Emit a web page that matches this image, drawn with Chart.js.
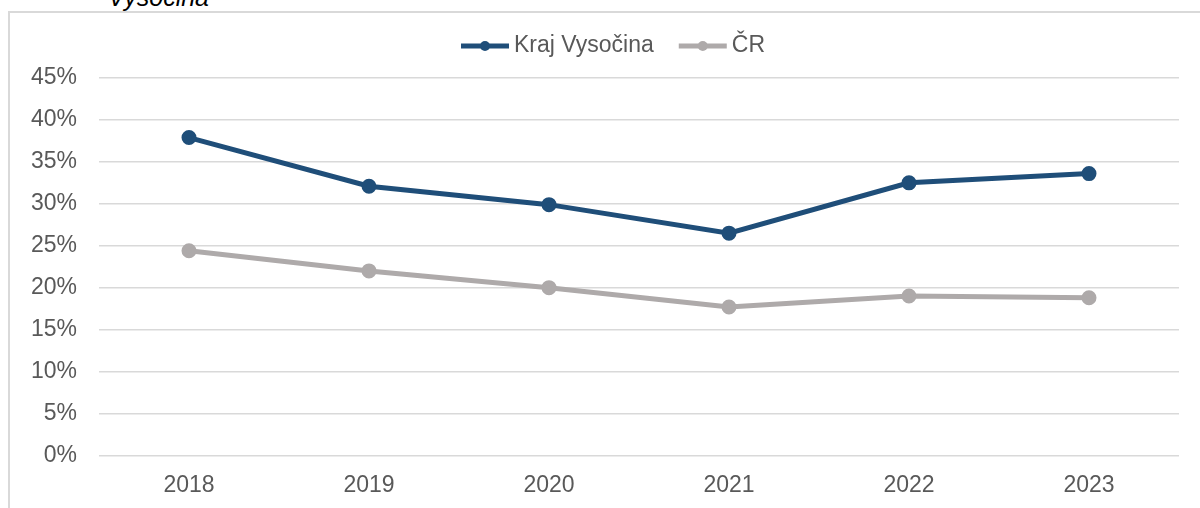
<!DOCTYPE html>
<html>
<head>
<meta charset="utf-8">
<script src="https://cdn.jsdelivr.net/npm/chart.js@4"></script>
<style>
  html, body { margin: 0; padding: 0; width: 1200px; height: 508px; overflow: hidden; background: #fff; }
  #frame { position: absolute; left: 8px; top: 11px; width: 1220px; height: 540px; border: 2px solid #d9d9d9; box-sizing: border-box; }
  #title { position: absolute; left: 108px; top: -15px; font: italic 25px/25px "Liberation Sans", Arial, sans-serif; color: #000; white-space: nowrap; }
  #wrap { position: absolute; left: 9px; top: 12px; width: 1208px; height: 510px; }
</style>
</head>
<body>
<div id="title">Vysočina</div>
<div id="frame"></div>
<div id="wrap"><canvas id="chart" width="1208" height="510"></canvas></div>
<script>
const years = ['2018', '2019', '2020', '2021', '2022', '2023'];
const krajVysocina = [37.9, 32.1, 29.9, 26.5, 32.5, 33.6];
const ceskaRepublika = [24.4, 22.0, 20.0, 17.7, 19.0, 18.8];
const seriesNames = ['Kraj Vysočina', 'ČR'];

const BLUE = '#1f4e79';
const GRAY = '#aeaaaa';
const TEXT = '#595959';
const FONT = '"Liberation Sans", Arial, sans-serif';
const FONT_SIZE = 23;

// legend like Excel: short line with a dot, centred over the chart object
const lineLegend = {
    id: 'lineLegend',
    afterDraw(chart) {
        const ctx = chart.ctx;
        const sets = chart.data.datasets;
        const sample = 48, gapText = 5, gapItem = 25;
        ctx.save();
        ctx.font = FONT_SIZE + 'px ' + FONT;
        const widths = sets.map(ds => sample + gapText + ctx.measureText(ds.label).width);
        const total = widths.reduce((a, b) => a + b, 0) + gapItem * (sets.length - 1);
        let x = (chart.width - total) / 2;
        const y = 34;
        sets.forEach((ds, i) => {
            ctx.strokeStyle = ds.borderColor;
            ctx.lineWidth = ds.borderWidth;
            ctx.beginPath(); ctx.moveTo(x, y); ctx.lineTo(x + sample, y); ctx.stroke();
            ctx.fillStyle = ds.borderColor;
            ctx.beginPath(); ctx.arc(x + sample / 2, y, ds.pointRadius, 0, Math.PI * 2); ctx.fill();
            ctx.fillStyle = TEXT;
            ctx.textBaseline = 'middle';
            ctx.textAlign = 'left';
            ctx.fillText(ds.label, x + sample + gapText, y);
            x += widths[i] + gapItem;
        });
        ctx.restore();
    }
};

new Chart(document.getElementById('chart'), {
    type: 'line',
    data: {
        labels: years,
        datasets: [
            { label: seriesNames[0], data: krajVysocina, borderColor: BLUE, backgroundColor: BLUE, borderWidth: 5, pointRadius: 5, pointHoverRadius: 5, tension: 0 },
            { label: seriesNames[1], data: ceskaRepublika, borderColor: GRAY, backgroundColor: GRAY, borderWidth: 5, pointRadius: 5, pointHoverRadius: 5, tension: 0 }
        ]
    },
    plugins: [lineLegend],
    options: {
        responsive: false,
        animation: false,
        layout: { padding: { top: 66, bottom: 7, left: 0, right: 38 } },
        plugins: {
            tooltip: { enabled: false },
            legend: { display: false }
        },
        scales: {
            x: {
                offset: true,
                grid: { display: false, drawTicks: false },
                border: { display: false },
                ticks: { color: TEXT, padding: 16, font: { family: FONT, size: FONT_SIZE } }
            },
            y: {
                min: 0,
                max: 45,
                afterFit: (s) => { s.width = 90; },
                grid: { color: '#d9d9d9', lineWidth: 1.5, drawTicks: false },
                border: { display: false },
                ticks: { stepSize: 5, padding: 22, color: TEXT, font: { family: FONT, size: FONT_SIZE }, callback: (v) => v + '%' }
            }
        }
    }
});
</script>
</body>
</html>
